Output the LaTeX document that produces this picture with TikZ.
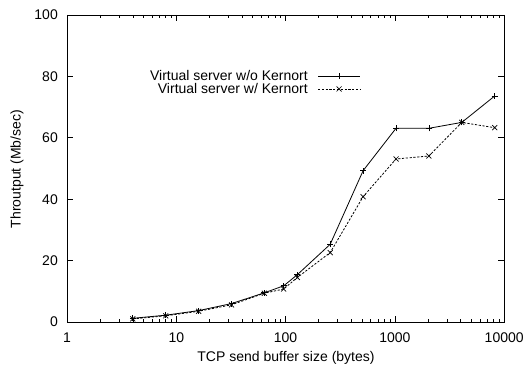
\documentclass[tikz,border=0pt]{standalone}
\usepackage{fontspec}
\setmainfont{Liberation Sans}
\begin{document}
\begin{tikzpicture}[x=1pt,y=1pt,
  frame/.style={line width=0.9pt},
  tick/.style={line width=0.6pt},
  lbl/.style={font=\fontsize{14}{16}\selectfont, inner sep=0pt},
  solidline/.style={line width=0.8pt},
  dashline/.style={line width=0.8pt, dash pattern=on 2.2pt off 1.6pt},
  mk/.style={line width=0.7pt}
]
\useasboundingbox (0,0) rectangle (524,369);
% frame
\coordinate (ll) at (67,47);
\coordinate (ur) at (504,354);
\draw[frame] (ll) rectangle (ur);
% y ticks
\foreach \v in {0,20,40,60,80,100}{
  \pgfmathsetmacro\yy{47+3.07*\v}
  \draw[tick] (67,\yy) -- ++(6,0);
  \draw[tick] (504,\yy) -- ++(-6,0);
  \node[lbl, anchor=east] at (58,\yy) {\v};
}
% x major ticks
\foreach \d/\t in {0/1,1/10,2/100,3/1000,4/10000}{
  \pgfmathsetmacro\xx{67+109.3*\d}
  \draw[tick] (\xx,47) -- ++(0,6);
  \draw[tick] (\xx,354) -- ++(0,-6);
  \node[lbl, anchor=base] at (\xx,26) {\t};
}
% x minor ticks
\foreach \d in {0,1,2,3}{
  \foreach \k in {2,...,9}{
    \pgfmathsetmacro\xx{67+109.3*(\d+log10(\k))}
    \draw[tick] (\xx,47) -- ++(0,3);
    \draw[tick] (\xx,354) -- ++(0,-3);
  }
}
% axis labels
\node[lbl, rotate=90] (ylab) at (17,200) {Throutput (Mb/sec)};
\node[lbl] (xlab) at (286,11) {TCP send buffer size (bytes)};
% data: without Kernort (solid, +)
\coordinate (a1) at (132.8,50.7);
\coordinate (a2) at (165.7,53.8);
\coordinate (a3) at (198.6,58.4);
\coordinate (a4) at (231.5,65.4);
\coordinate (a5) at (264.4,76.2);
\coordinate (a6) at (283.7,83.2);
\coordinate (a7) at (297.3,94.3);
\coordinate (a8) at (330.2,124.7);
\coordinate (a9) at (363.1,198.3);
\coordinate (a10) at (396.0,240.7);
\coordinate (a11) at (428.9,240.7);
\coordinate (a12) at (461.8,246.6);
\coordinate (a13) at (494.7,273.0);
% data: with Kernort (dashed, x)
\coordinate (b1) at (132.8,50.1);
\coordinate (b2) at (165.7,53.2);
\coordinate (b3) at (198.6,57.7);
\coordinate (b4) at (231.5,64.2);
\coordinate (b5) at (264.4,75.8);
\coordinate (b6) at (283.7,80.0);
\coordinate (b7) at (297.3,91.5);
\coordinate (b8) at (330.2,116.4);
\coordinate (b9) at (363.1,172.3);
\coordinate (b10) at (396.0,210.0);
\coordinate (b11) at (428.9,213.0);
\coordinate (b12) at (461.8,246.6);
\coordinate (b13) at (494.7,241.3);
\draw[solidline] (a1)--(a2)--(a3)--(a4)--(a5)--(a6)--(a7)--(a8)--(a9)--(a10)--(a11)--(a12)--(a13);
\draw[dashline] (b1)--(b2)--(b3)--(b4)--(b5)--(b6)--(b7)--(b8)--(b9)--(b10)--(b11)--(b12)--(b13);
\foreach \p in {a1,a2,a3,a4,a5,a6,a7,a8,a9,a10,a11,a12,a13}{
  \draw[mk, shift={(\p)}] (-3,0) -- (3,0) (0,-3) -- (0,3);
}
\foreach \p in {b1,b2,b3,b4,b5,b6,b7,b8,b9,b10,b11,b12,b13}{
  \draw[mk, shift={(\p)}] (-2.5,-2.5) -- (2.5,2.5) (-2.5,2.5) -- (2.5,-2.5);
}
% legend
\node[lbl, anchor=east] (l1) at (308,293) {Virtual server w/o Kernort};
\node[lbl, anchor=east] (l2) at (308,280) {Virtual server w/ Kernort};
\coordinate (l1s) at (318,293); \coordinate (l1e) at (360,293); \coordinate (l1m) at (339,293);
\coordinate (l2s) at (318,280); \coordinate (l2e) at (360,280); \coordinate (l2m) at (339,280);
\draw[solidline] (l1s) -- (l1e);
\draw[dashline] (l2s) -- (l2e);
\draw[mk, shift={(l1m)}] (-3,0) -- (3,0) (0,-3) -- (0,3);
\draw[mk, shift={(l2m)}] (-2.5,-2.5) -- (2.5,2.5) (-2.5,2.5) -- (2.5,-2.5);
\end{tikzpicture}
\end{document}
